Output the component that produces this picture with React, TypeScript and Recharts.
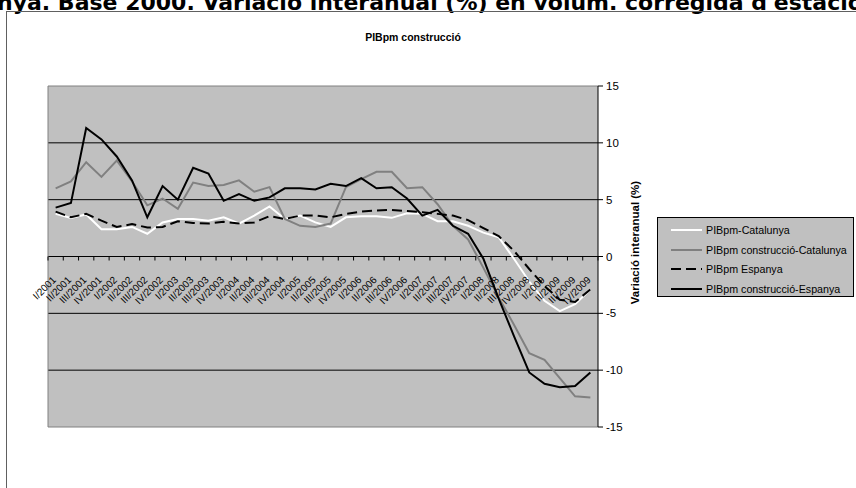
import React from "react";
import { LineChart, Line, XAxis, YAxis, CartesianGrid, Legend } from "recharts";

const quarters = [
  "I/2001", "II/2001", "III/2001", "IV/2001",
  "I/2002", "II/2002", "III/2002", "IV/2002",
  "I/2003", "II/2003", "III/2003", "IV/2003",
  "I/2004", "II/2004", "III/2004", "IV/2004",
  "I/2005", "II/2005", "III/2005", "IV/2005",
  "I/2006", "II/2006", "III/2006", "IV/2006",
  "I/2007", "II/2007", "III/2007", "IV/2007",
  "I/2008", "II/2008", "III/2008", "IV/2008",
  "I/2009", "II/2009", "III/2009", "IV/2009",
];

// PIBpm-Catalunya
const pibCat = [
  3.75, 3.4, 3.7, 2.4, 2.4, 2.6, 2.0, 3.0, 3.3, 3.3, 3.15, 3.45,
  2.9, 3.6, 4.4, 3.3, 3.6, 3.0, 2.6, 3.45, 3.55, 3.55, 3.4, 3.8,
  3.75, 3.1, 3.1, 2.7, 2.1, 1.7, -0.2, -2.2, -3.9, -4.8, -4.2, -2.9,
];
// PIBpm construcció-Catalunya
const constrCat = [
  6.0, 6.6, 8.3, 7.0, 8.45, 6.6, 4.5, 5.1, 4.2, 6.5, 6.2, 6.3,
  6.7, 5.7, 6.1, 3.3, 2.7, 2.6, 2.9, 6.1, 6.8, 7.45, 7.45, 6.0,
  6.1, 4.6, 2.7, 1.5, -1.0, -3.6, -6.0, -8.5, -9.1, -10.7, -12.3, -12.4,
];
// PIBpm Espanya
const pibEsp = [
  3.95, 3.45, 3.75, 3.15, 2.6, 2.85, 2.55, 2.6, 3.1, 2.95, 2.9, 3.05,
  2.9, 3.0, 3.55, 3.3, 3.6, 3.6, 3.45, 3.75, 3.95, 4.05, 4.1, 4.0,
  3.9, 3.75, 3.6, 3.2, 2.5, 1.8, 0.5, -1.1, -2.6, -3.8, -4.0, -2.9,
];
// PIBpm construcció-Espanya
const constrEsp = [
  4.3, 4.7, 11.3, 10.3, 8.8, 6.7, 3.45, 6.2, 5.0, 7.8, 7.3, 4.9,
  5.5, 4.9, 5.2, 6.0, 6.0, 5.9, 6.4, 6.2, 6.9, 6.0, 6.1, 5.1,
  3.6, 4.1, 2.7, 2.0, -0.2, -3.7, -7.0, -10.2, -11.2, -11.5, -11.4, -10.2,
];

const yTicks = [15, 10, 5, 0, -5, -10, -15];
const innerGrid = [10, 5, 0, -5, -10];
const edgeGrid = [15, -15];

const series = [
  { key: "pibCat", name: "PIBpm-Catalunya", color: "#ffffff", dash: undefined },
  { key: "constrCat", name: "PIBpm construcció-Catalunya", color: "#808080", dash: undefined },
  { key: "pibEsp", name: "PIBpm Espanya", color: "#000000", dash: "10 5" },
  { key: "constrEsp", name: "PIBpm construcció-Espanya", color: "#000000", dash: undefined },
];

const data = quarters.map((q, i) => ({
  q,
  pibCat: pibCat[i],
  constrCat: constrCat[i],
  pibEsp: pibEsp[i],
  constrEsp: constrEsp[i],
}));

const W = 856;
const H = 488;
const PLOT_LEFT = 48;
const PLOT_TOP = 86;
const PLOT_RIGHT = 598;
const PLOT_BOTTOM = 427;
const Y_AXIS_W = 40;
const X_AXIS_H = 30;
const PLOT_W = PLOT_RIGHT - PLOT_LEFT;
const PLOT_H = PLOT_BOTTOM - PLOT_TOP;
const STEP = PLOT_W / quarters.length;
const ARIAL = "Arial, 'Liberation Sans', sans-serif";

// category labels sit on the zero line, like Excel does it
function QuarterTick(props: any) {
  const { x, payload, index } = props;
  const zeroY = PLOT_TOP + PLOT_H / 2;
  const tx = x + 1;
  const ty = zeroY + 24;
  return (
    <g>
      <line x1={x - STEP / 2} x2={x - STEP / 2} y1={zeroY} y2={zeroY + 4} stroke="#000" />
      {index === quarters.length - 1 && (
        <line x1={x + STEP / 2} x2={x + STEP / 2} y1={zeroY} y2={zeroY + 4} stroke="#000" />
      )}
      <text
        x={tx}
        y={ty}
        textAnchor="end"
        transform={`rotate(-45 ${tx} ${ty})`}
        fontSize={10}
        fontFamily={ARIAL}
        fill="#000"
      >
        {payload.value}
      </text>
    </g>
  );
}

function AxisTitle(props: any) {
  const vb = props.viewBox;
  const cx = vb.x + 37;
  const cy = vb.y + vb.height / 2 - 14;
  return (
    <text
      x={cx}
      y={cy}
      textAnchor="middle"
      dominantBaseline="central"
      transform={`rotate(-90 ${cx} ${cy})`}
      fontSize={11.5}
      fontWeight="bold"
      fontFamily={ARIAL}
      fill="#000"
    >
      Variació interanual (%)
    </text>
  );
}

function LegendBox() {
  return (
    <div
      style={{
        width: 197,
        height: 80,
        background: "#c0c0c0",
        border: "1px solid #000",
        paddingTop: 2,
        boxSizing: "border-box",
      }}
    >
      {series.map((s) => (
        <div key={s.key} style={{ display: "flex", alignItems: "center", height: 19.7 }}>
          <svg width={48} height={6} style={{ display: "block" }}>
            <line x1={13} x2={44} y1={3} y2={3} stroke={s.color} strokeWidth={2} strokeDasharray={s.dash} />
          </svg>
          <span style={{ fontFamily: ARIAL, fontSize: 10.7, color: "#000", whiteSpace: "nowrap" }}>{s.name}</span>
        </div>
      ))}
    </div>
  );
}

export default function App() {
  return (
    <div style={{ position: "absolute", left: 0, top: 0, width: W, height: H, overflow: "hidden", background: "#fff" }}>
      <div
        style={{
          position: "absolute",
          left: -3,
          top: -7,
          whiteSpace: "nowrap",
          fontFamily: "'DejaVu Sans', Verdana, sans-serif",
          fontWeight: "bold",
          fontSize: 22,
          lineHeight: "19px",
          color: "#000",
        }}
      >
        <span style={{ position: "absolute", right: "100%" }}>PIB i PIB construcció. Catalu</span>
        nya. Base 2000. Variació interanual (%) en volum. corregida d'estacionalitat
      </div>
      <div
        style={{
          position: "absolute",
          left: 6,
          top: 11,
          width: 900,
          height: 500,
          border: "1px solid #606060",
        }}
      />
      <div
        style={{
          position: "absolute",
          left: 313,
          top: 31,
          width: 200,
          textAlign: "center",
          fontFamily: ARIAL,
          fontWeight: "bold",
          fontSize: 10.5,
          color: "#000",
        }}
      >
        PIBpm construcció
      </div>
      <div style={{ position: "absolute", left: 0, top: 0 }}>
        <LineChart
          width={W}
          height={H}
          data={data}
          margin={{
            top: PLOT_TOP,
            left: PLOT_LEFT - 1,
            right: W - PLOT_RIGHT - Y_AXIS_W,
            bottom: H - PLOT_BOTTOM - X_AXIS_H,
          }}
        >
          <CartesianGrid vertical={false} fill="#c0c0c0" stroke="#000" horizontalValues={innerGrid} />
          <CartesianGrid vertical={false} stroke="#808080" horizontalValues={edgeGrid} />
          <XAxis
            dataKey="q"
            interval={0}
            height={X_AXIS_H}
            padding={{ left: STEP / 2, right: STEP / 2 }}
            axisLine={false}
            tickLine={false}
            tick={<QuarterTick />}
          />
          <YAxis
            yAxisId="edge"
            orientation="left"
            width={1}
            domain={[-15, 15]}
            tick={false}
            tickLine={false}
            axisLine={{ stroke: "#808080" }}
          />
          <YAxis
            orientation="right"
            width={Y_AXIS_W}
            type="number"
            domain={[-15, 15]}
            ticks={yTicks}
            interval={0}
            axisLine={{ stroke: "#000" }}
            tickLine={{ stroke: "#000" }}
            tickSize={5}
            tickMargin={3}
            tick={{ fill: "#000", fontSize: 11.5, fontFamily: ARIAL }}
            label={<AxisTitle />}
          />
          <Legend
            layout="vertical"
            align="center"
            verticalAlign="middle"
            wrapperStyle={{ left: 657, top: 217, width: 199, height: 82 }}
            content={<LegendBox />}
          />
          {series.map((s) => (
            <Line
              key={s.key}
              type="linear"
              dataKey={s.key}
              name={s.name}
              stroke={s.color}
              strokeWidth={2}
              strokeDasharray={s.dash}
              dot={false}
              activeDot={false}
              isAnimationActive={false}
            />
          ))}
        </LineChart>
      </div>
    </div>
  );
}
